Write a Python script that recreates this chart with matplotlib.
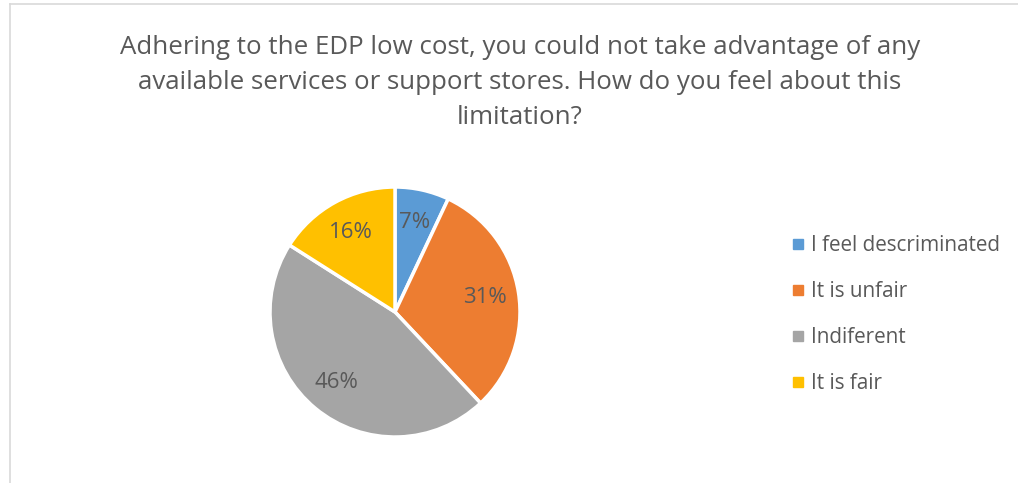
import matplotlib
matplotlib.use("Agg")
import matplotlib.pyplot as plt
from matplotlib.lines import Line2D

plt.rcParams["font.family"] = ["Open Sans", "DejaVu Sans"]

# survey answers, share of respondents (%)
labels = ["I feel descriminated", "It is unfair", "Indiferent", "It is fair"]
shares = [7, 31, 46, 16]
colors = ["#5B9BD5", "#ED7D31", "#A5A5A5", "#FFC000"]
title = ("Adhering to the EDP low cost, you could not take advantage of any\n"
         "available services or support stores. How do you feel about this\n"
         "limitation?")

text_col = "#595959"
W, H = 1018, 483
fig = plt.figure(figsize=(W / 100, H / 100), dpi=100)

# chart frame: only the top and left edges fall inside the image
fig.add_artist(Line2D([10 / W, 1], [1 - 4 / H, 1 - 4 / H], color="#d9d9d9", lw=1.2))
fig.add_artist(Line2D([10 / W, 10 / W], [0, 1 - 4 / H], color="#d9d9d9", lw=1.2))

fig.text(520 / W, 1 - 34.5 / H, title, ha="center", va="top", fontsize=18.6,
         color=text_col, linespacing=1.53)

cx, cy, r = 395, 312, 125
pad = 1.01
ax = fig.add_axes([(cx - r * pad) / W, (H - cy - r * pad) / H,
                   2 * r * pad / W, 2 * r * pad / H])
wedges, _, autotexts = ax.pie(
    shares, colors=colors, startangle=90, counterclock=False,
    autopct=lambda p: f"{p:.0f}%", pctdistance=0.73,
    wedgeprops=dict(edgecolor="white", linewidth=2.5),
    textprops=dict(color=text_col, fontsize=16))
ax.set_xlim(-pad, pad)
ax.set_ylim(-pad, pad)
ax.axis("off")

handles = [Line2D([], [], marker="s", ls="", markersize=7, color=c) for c in colors]
fig.legend(handles, labels, loc="upper left", bbox_to_anchor=(782 / W, 1 - 227 / H),
           frameon=False, fontsize=14.9, labelcolor=text_col, labelspacing=1.2,
           handlelength=0.7, handletextpad=0.3, borderaxespad=0)

fig.savefig("out.png", dpi=100)
